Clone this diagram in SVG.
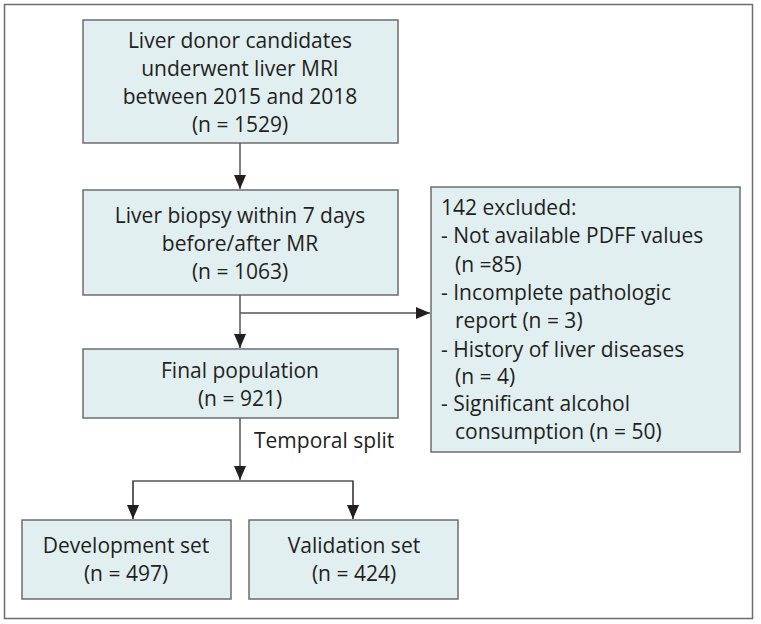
<svg xmlns="http://www.w3.org/2000/svg" width="761" height="624" viewBox="0 0 761 624">
<style>
.box{fill:#e1eff0;stroke:#6d6d6d;stroke-width:1.5}
.t{font-family:"Open Sans","Noto Sans",sans-serif;font-size:21px;fill:#231f20}
.c{text-anchor:middle}
.ln{stroke:#555;stroke-width:1.5;fill:none}
</style>
<defs>
<marker id="ah" viewBox="0 0 10 10" refX="10" refY="5" markerWidth="10" markerHeight="10" markerUnits="userSpaceOnUse" orient="auto">
<path d="M0,0 L10,5 L0,10 z" fill="#231f20"/>
</marker>
<marker id="ahv" viewBox="0 0 14 12" refX="14" refY="6" markerWidth="14" markerHeight="12" markerUnits="userSpaceOnUse" orient="auto">
<path d="M0,0 L14,6 L0,12 z" fill="#231f20"/>
</marker>
</defs>
<rect x="4.5" y="4.5" width="748" height="614" fill="#fff" stroke="#6d6d6d" stroke-width="1.5"/>
<g id="connectors">
<line class="ln" x1="240" y1="143" x2="240" y2="189" marker-end="url(#ahv)"/>
<line class="ln" x1="240" y1="295" x2="240" y2="348" marker-end="url(#ahv)"/>
<line class="ln" x1="240" y1="313" x2="430" y2="313" marker-end="url(#ahv)"/>
<line class="ln" x1="240" y1="418" x2="240" y2="480" marker-end="url(#ahv)"/>
<polyline class="ln" points="133,519 133,481 353,481 353,519" />
<line class="ln" x1="133" y1="481" x2="133" y2="519" marker-end="url(#ahv)"/>
<line class="ln" x1="353" y1="481" x2="353" y2="519" marker-end="url(#ahv)"/>
<text class="t" x="254" y="448">Temporal split</text>
</g>
<g id="n1">
<rect class="box" x="83" y="20" width="315" height="123"/>
<text class="t c" x="240" y="48">Liver donor candidates</text>
<text class="t c" x="240" y="76">underwent liver MRI</text>
<text class="t c" x="240" y="104">between 2015 and 2018</text>
<text class="t c" x="240" y="132">(n = 1529)</text>
</g>
<g id="n2">
<rect class="box" x="83" y="190" width="315" height="105"/>
<text class="t c" x="240" y="223">Liver biopsy within 7 days</text>
<text class="t c" x="240" y="251">before/after MR</text>
<text class="t c" x="240" y="279">(n = 1063)</text>
</g>
<g id="n3">
<rect class="box" x="431" y="187" width="309" height="265"/>
<text class="t" x="441" y="215">142 excluded:</text>
<text class="t" x="441" y="243">- Not available PDFF values</text>
<text class="t" x="455" y="272">(n =85)</text>
<text class="t" x="441" y="300">- Incomplete pathologic</text>
<text class="t" x="455" y="328">report (n = 3)</text>
<text class="t" x="441" y="357">- History of liver diseases</text>
<text class="t" x="455" y="384">(n = 4)</text>
<text class="t" x="441" y="411">- Significant alcohol</text>
<text class="t" x="455" y="439">consumption (n = 50)</text>
</g>
<g id="n4">
<rect class="box" x="83" y="349" width="315" height="69"/>
<text class="t c" x="240" y="378">Final population</text>
<text class="t c" x="240" y="406">(n = 921)</text>
</g>
<g id="n5">
<rect class="box" x="22" y="520" width="209" height="79"/>
<text class="t c" x="126" y="553">Development set</text>
<text class="t c" x="126" y="581">(n = 497)</text>
</g>
<g id="n6">
<rect class="box" x="249" y="520" width="209" height="79"/>
<text class="t c" x="354" y="553">Validation set</text>
<text class="t c" x="354" y="581">(n = 424)</text>
</g>
</svg>
